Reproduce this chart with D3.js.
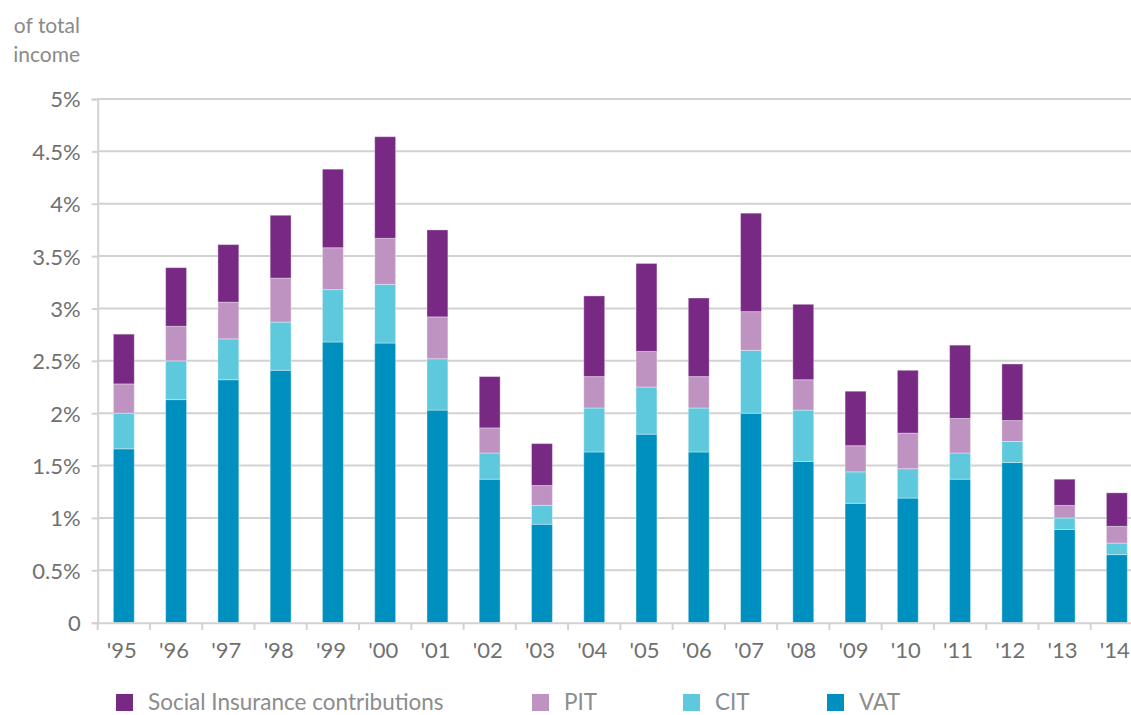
<!DOCTYPE html>
<html>
<head>
<meta charset="utf-8">
<script src="https://cdn.jsdelivr.net/npm/d3@7"></script>
<style>
  body { margin: 0; background: #fff; }
  text { font-family: Lato, "Open Sans", sans-serif; }
</style>
</head>
<body>
<script>
// years on the x axis
var years = ["'95","'96","'97","'98","'99","'00","'01","'02","'03","'04",
             "'05","'06","'07","'08","'09","'10","'11","'12","'13","'14"];

// components, % of total income (bottom to top)
var vat = [1.66, 2.13, 2.32, 2.41, 2.68, 2.67, 2.03, 1.37, 0.94, 1.63,
           1.80, 1.63, 2.00, 1.54, 1.14, 1.19, 1.37, 1.53, 0.89, 0.65];
var cit = [0.34, 0.37, 0.39, 0.46, 0.50, 0.56, 0.49, 0.25, 0.18, 0.42,
           0.45, 0.42, 0.60, 0.49, 0.30, 0.28, 0.25, 0.20, 0.11, 0.11];
var pit = [0.28, 0.33, 0.35, 0.42, 0.40, 0.44, 0.40, 0.24, 0.19, 0.30,
           0.34, 0.30, 0.37, 0.29, 0.25, 0.34, 0.33, 0.20, 0.12, 0.16];
var sic = [0.475, 0.56, 0.55, 0.60, 0.75, 0.97, 0.83, 0.49, 0.40, 0.77,
           0.84, 0.75, 0.94, 0.72, 0.52, 0.60, 0.70, 0.54, 0.25, 0.32];

var yTicks = [0, 0.5, 1, 1.5, 2, 2.5, 3, 3.5, 4, 4.5, 5];

var keys = ["vat", "cit", "pit", "sic"];
var names = {sic: "Social Insurance contributions", pit: "PIT", cit: "CIT", vat: "VAT"};
var colors = {sic: "#772983", pit: "#bf93c1", cit: "#5ec9dd", vat: "#0090bf"};

var rows = years.map(function(y, i) {
  return {year: y, vat: vat[i], cit: cit[i], pit: pit[i], sic: sic[i]};
});

var W = 1131, H = 715;
var svg = d3.select("body").append("svg")
    .attr("width", W)
    .attr("height", H);

var x = d3.scaleBand()
    .domain(years)
    .range([97.7, 1143])
    .padding(0);

var y = d3.scaleLinear()
    .domain([0, 5])
    .range([622.7, 99]);

var grey = "#d2d2d2";

// gridlines
svg.append("g")
  .selectAll("line")
  .data(yTicks.slice(1))
  .enter().append("line")
    .attr("x1", 97.7).attr("x2", W)
    .attr("y1", function(d) { return y(d); })
    .attr("y2", function(d) { return y(d); })
    .attr("stroke", grey)
    .attr("stroke-width", 2);

// stacked bars
var stack = d3.stack().keys(keys)(rows);
var bw = x.bandwidth() * 0.4;

svg.append("g")
  .selectAll("g")
  .data(stack)
  .enter().append("g")
    .attr("fill", function(d) { return colors[d.key]; })
  .selectAll("rect")
  .data(function(d) { return d; })
  .enter().append("rect")
    .attr("x", function(d) { return x(d.data.year) + (x.bandwidth() - bw) / 2; })
    .attr("width", bw)
    .attr("y", function(d) { return y(d[1]); })
    .attr("height", function(d) { return y(d[0]) - y(d[1]); })
    .attr("stroke", "rgba(255,255,255,0.35)")
    .attr("stroke-width", 1);

// y axis
var yAxis = svg.append("g")
    .attr("transform", "translate(97.7,0)")
    .call(d3.axisLeft(y).tickValues(yTicks)
      .tickFormat(function(d) { return d === 0 ? "0" : d + "%"; })
      .tickSize(6).tickPadding(11));

// x axis
var xAxis = svg.append("g")
    .attr("transform", "translate(0,622.7)")
    .call(d3.axisBottom(x).tickSize(0).tickPadding(20));

// x ticks on the band edges
svg.append("g")
  .selectAll("line")
  .data(years)
  .enter().append("line")
    .attr("x1", function(d) { return x(d); })
    .attr("x2", function(d) { return x(d); })
    .attr("y1", 622.7).attr("y2", 630)
    .attr("stroke", grey)
    .attr("stroke-width", 2);

[yAxis, xAxis].forEach(function(a) {
  a.select(".domain").attr("stroke", grey).attr("stroke-width", 2);
  a.selectAll(".tick line").attr("stroke", grey).attr("stroke-width", 2);
  a.selectAll(".tick text")
    .attr("fill", "#707070")
    .style("font-size", "22px");
});
yAxis.selectAll(".tick text").attr("dy", "0.36em");
xAxis.selectAll(".tick text").attr("dx", "-2");

// y label
svg.append("text")
    .attr("x", 80).attr("y", 33)
    .attr("text-anchor", "end")
    .attr("fill", "#8a8a8a")
    .style("font-size", "21px")
    .text("of total");
svg.append("text")
    .attr("x", 80).attr("y", 62)
    .attr("text-anchor", "end")
    .attr("fill", "#8a8a8a")
    .style("font-size", "21px")
    .text("income");

// legend
var legendX = {sic: 116, pit: 532, cit: 683, vat: 827};
var legend = svg.append("g")
  .selectAll("g")
  .data(["sic", "pit", "cit", "vat"])
  .enter().append("g")
    .attr("transform", function(d) { return "translate(" + legendX[d] + ",694)"; });

legend.append("rect")
    .attr("width", 17).attr("height", 17)
    .attr("fill", function(d) { return colors[d]; });

legend.append("text")
    .attr("x", 32).attr("y", 16)
    .attr("fill", "#8c8c8c")
    .style("font-size", "22.5px")
    .text(function(d) { return names[d]; });
</script>
</body>
</html>
